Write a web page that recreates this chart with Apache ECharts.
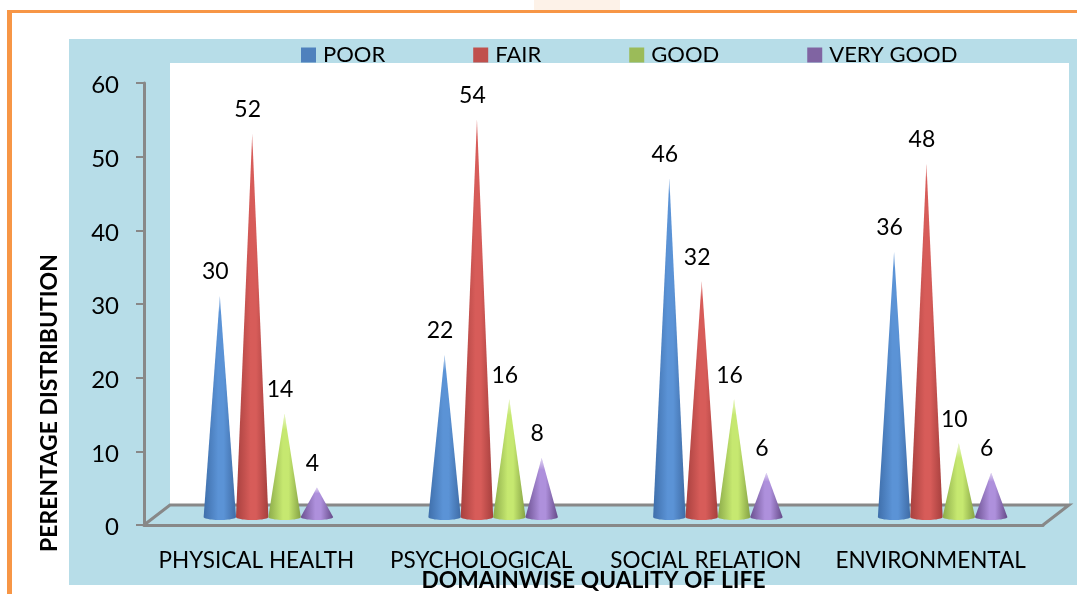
<!DOCTYPE html>
<html><head><meta charset="utf-8">
<style>html,body{margin:0;padding:0;background:#fff}#c{width:1077px;height:594px}</style>
<script src="https://cdn.jsdelivr.net/npm/echarts@6/dist/echarts.min.js"></script>
</head><body><div id="c"></div>
<script>
const categories = ['PHYSICAL HEALTH','PSYCHOLOGICAL','SOCIAL RELATION','ENVIRONMENTAL'];
const poor = [30,22,46,36];
const fair = [52,54,32,48];
const good = [14,16,16,10];
const veryGood = [4,8,6,6];
const yTicks = {min:0,max:60,interval:10};
const font = 'Lato';

const DX = 12, DY = -8;
function cone(seriesIdx, shades){
  return function(params, api){
    const i = api.value(0), v = api.value(1);
    const band = api.size([1,0])[0];
    const p0 = api.coord([i,0]), p1 = api.coord([i,v]);
    const cx = p0[0] + DX + (seriesIdx-1.5)*band*0.144;
    const by = p0[1] + DY, ty = p1[1] + DY;
    const rx = 16.2, ry = 3;
    const pts = [[cx,ty]];
    for(let a=0;a<=24;a++){const t=Math.PI*a/24; pts.push([cx+rx*Math.cos(t), by+ry*Math.sin(t)]);}
    const fh = Math.min(16, (by-ty)*0.2), fw = rx*fh/(by-ty);
    return {type:'group',children:[
      {type:'polygon',shape:{points:pts},style:{fill:new echarts.graphic.LinearGradient(0,0,1,0,[
        {offset:0,color:shades[0]},{offset:0.45,color:shades[1]},{offset:0.62,color:shades[1]},{offset:1,color:shades[2]}])}},
      {type:'polygon',shape:{points:[[cx,ty],[cx+fw,ty+fh],[cx-fw,ty+fh]]},style:{fill:new echarts.graphic.LinearGradient(0,0,0,1,[
        {offset:0,color:'rgba(255,255,255,0.65)'},{offset:1,color:'rgba(255,255,255,0)'}])}},
      {type:'text',style:{x:cx-4.5,y:ty-24,text:String(v),align:'center',verticalAlign:'middle',
        fill:'#000',font:'23px '+font}}
    ]};
  };
}
const seriesDefs = [
  {name:'POOR',data:poor,color:'#4f81bd',shades:['#3f6fab','#5b93d6','#3f6ca6']},
  {name:'FAIR',data:fair,color:'#c0504d',shades:['#a8413f','#d75c59','#a53f3d']},
  {name:'GOOD',data:good,color:'#9bbb59',shades:['#8cab4a','#c6e870','#85a244']},
  {name:'VERY GOOD',data:veryGood,color:'#8064a2',shades:['#6b5090','#ae90dc','#654a88']}
];
const chart = echarts.init(document.getElementById('c'),null,{renderer:'canvas'});
chart.setOption({
  animation:false,
  backgroundColor:'#fff',
  textStyle:{fontFamily:font},
  graphic:{elements:[
    {type:'rect',z:-10,shape:{x:534,y:0,width:86,height:10},style:{fill:'#fdf2e8'}},
    {type:'rect',z:-9,shape:{x:7,y:10,width:1070,height:3},style:{fill:'#f79646'}},
    {type:'rect',z:-9,shape:{x:7,y:10,width:5,height:584},style:{fill:'#f79646'}},
    {type:'rect',z:-8,shape:{x:69,y:39,width:1008,height:546},style:{fill:'#b7dde8'}},
    {type:'rect',z:-7,shape:{x:170,y:63,width:899,height:442},style:{fill:'#fff'}},
    {type:'polyline',z:-6,shape:{points:[[144,525],[170,505],[1069,505],[1043,525]]},
      style:{stroke:'#888',lineWidth:3,fill:'none'}}
  ]},
  legend:{left:296,top:39,itemWidth:15,itemHeight:15,itemGap:88,icon:'rect',
    selectedMode:false,
    textStyle:{fontFamily:font,fontSize:22,color:'#000',padding:[0,0,0,2]},
    data:seriesDefs.map(s=>({name:s.name,itemStyle:{color:s.color}}))},
  grid:{left:144,top:83,width:899,height:442,containLabel:false,outerBoundsMode:'none'},
  xAxis:{type:'category',data:categories,
    axisTick:{show:false},
    axisLine:{lineStyle:{color:'#888',width:3}},
    axisLabel:{color:'#000',fontFamily:font,fontSize:22.5,margin:24,interval:0},
    name:'DOMAINWISE QUALITY OF LIFE',nameLocation:'middle',nameGap:44,nameMoveOverlap:false,
    nameTextStyle:{color:'#000',fontFamily:font,fontWeight:'bold',fontSize:22.8}},
  yAxis:{type:'value',min:yTicks.min,max:yTicks.max,interval:yTicks.interval,
    splitLine:{show:false},
    axisLine:{show:true,lineStyle:{color:'#888',width:3}},
    axisTick:{show:true,length:8,lineStyle:{color:'#888',width:2}},
    axisLabel:{color:'#000',fontFamily:font,fontSize:24,margin:25,
      formatter:'{a|{value}}',rich:{a:{fontFamily:font,fontSize:24,color:'#000',padding:[5,0,0,0]}}},
    name:'PERENTAGE DISTRIBUTION',nameLocation:'middle',nameGap:83,nameRotate:90,
    nameTextStyle:{color:'#000',fontFamily:font,fontWeight:'bold',fontSize:23,padding:[0,198,0,0]}},
  series:seriesDefs.map((s,k)=>({
    type:'custom',name:s.name,coordinateSystem:'cartesian2d',
    itemStyle:{color:s.color},
    renderItem:cone(k,s.shades),
    encode:{x:0,y:1},
    data:s.data.map((v,i)=>[i,v]),
    clip:false
  }))
});
</script></body></html>
